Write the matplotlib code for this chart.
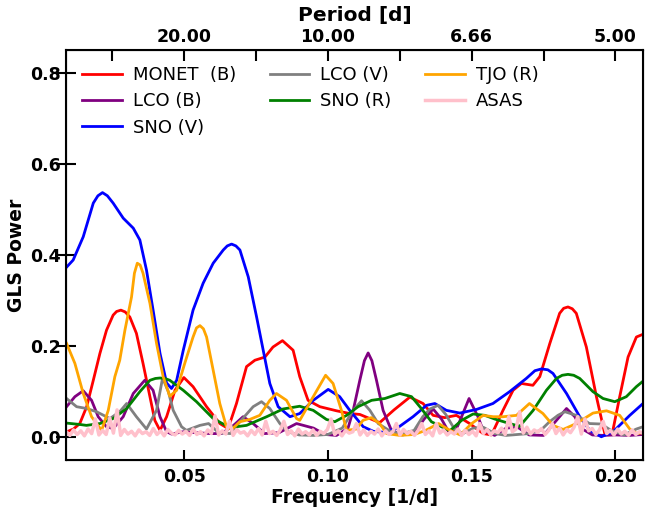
import matplotlib
matplotlib.use('Agg')
import matplotlib.pyplot as plt
import numpy as np

# GLS periodogram values
monet_b_freq = [0.0092, 0.0115, 0.0137, 0.0161, 0.0184, 0.0207, 0.0230, 0.0253, 0.0265, 0.0280,
                0.0295, 0.0311, 0.0334, 0.0357, 0.0381, 0.0398, 0.0416, 0.0439, 0.0468, 0.0499,
                0.0531, 0.0578, 0.0624, 0.0653, 0.0682, 0.0717, 0.0746, 0.0781, 0.0809, 0.0842,
                0.0879, 0.0902, 0.0931, 0.0972, 0.1030, 0.1076, 0.1111, 0.1180, 0.1230, 0.1285,
                0.1331, 0.1366, 0.1406, 0.1447, 0.1493, 0.1540, 0.1569, 0.1609, 0.1644, 0.1673,
                0.1713, 0.1737, 0.1772, 0.1806, 0.1820, 0.1835, 0.1850, 0.1864, 0.1899, 0.1934,
                0.1963, 0.1989, 0.2015, 0.2044, 0.2073, 0.2096]
monet_b_power = [0.012, 0.018, 0.030, 0.067, 0.125, 0.184, 0.235, 0.268, 0.276, 0.279,
                 0.275, 0.264, 0.228, 0.162, 0.089, 0.037, 0.015, 0.045, 0.103, 0.131,
                 0.111, 0.067, 0.030, 0.019, 0.074, 0.155, 0.169, 0.176, 0.198, 0.212,
                 0.191, 0.133, 0.081, 0.067, 0.058, 0.052, 0.050, 0.032, 0.060, 0.088,
                 0.074, 0.048, 0.043, 0.048, 0.030, 0.008, 0.005, 0.059, 0.103, 0.118,
                 0.114, 0.133, 0.206, 0.272, 0.283, 0.286, 0.282, 0.272, 0.198, 0.089,
                 0.008, 0.008, 0.089, 0.176, 0.220, 0.226]

lco_b_freq = [0.0091, 0.0120, 0.0149, 0.0178, 0.0201, 0.0230, 0.0253, 0.0288, 0.0323, 0.0363,
              0.0392, 0.0416, 0.0439, 0.0456, 0.0497, 0.0540, 0.0590, 0.0630, 0.0670, 0.0705,
              0.0740, 0.0780, 0.0830, 0.0891, 0.0950, 0.0990, 0.1030, 0.1070, 0.1088, 0.1111,
              0.1127, 0.1140, 0.1153, 0.1169, 0.1192, 0.1221, 0.1260, 0.1300, 0.1335, 0.1366,
              0.1395, 0.1420, 0.1445, 0.1465, 0.1491, 0.1522, 0.1540, 0.1580, 0.1620, 0.1660,
              0.1700, 0.1750, 0.1795, 0.1830, 0.1859, 0.1880, 0.1920, 0.1960, 0.2000, 0.2050,
              0.2096]
lco_b_power = [0.067, 0.089, 0.102, 0.081, 0.045, 0.023, 0.019, 0.045, 0.096, 0.125,
               0.103, 0.045, 0.012, 0.007, 0.012, 0.010, 0.008, 0.008, 0.025, 0.045,
               0.030, 0.008, 0.010, 0.030, 0.020, 0.006, 0.004, 0.020, 0.059, 0.125,
               0.168, 0.185, 0.168, 0.125, 0.059, 0.015, 0.005, 0.010, 0.040, 0.062,
               0.040, 0.012, 0.015, 0.045, 0.085, 0.045, 0.015, 0.004, 0.020, 0.022,
               0.005, 0.004, 0.037, 0.063, 0.045, 0.020, 0.005, 0.004, 0.005, 0.004,
               0.006]

sno_v_freq = [0.0092, 0.0114, 0.0149, 0.0184, 0.0200, 0.0216, 0.0233, 0.0253, 0.0288, 0.0323,
              0.0346, 0.0369, 0.0392, 0.0416, 0.0439, 0.0456, 0.0474, 0.0497, 0.0531, 0.0566,
              0.0601, 0.0636, 0.0650, 0.0665, 0.0680, 0.0694, 0.0723, 0.0752, 0.0775, 0.0798,
              0.0827, 0.0868, 0.0902, 0.0949, 0.1001, 0.1041, 0.1076, 0.1123, 0.1158, 0.1192,
              0.1239, 0.1296, 0.1343, 0.1372, 0.1412, 0.1459, 0.1517, 0.1574, 0.1632, 0.1690,
              0.1720, 0.1743, 0.1765, 0.1783, 0.1830, 0.1876, 0.1911, 0.1951, 0.1992, 0.2050,
              0.2096]
sno_v_power = [0.374, 0.389, 0.440, 0.514, 0.530, 0.537, 0.530, 0.514, 0.481, 0.459,
               0.433, 0.367, 0.279, 0.184, 0.119, 0.107, 0.125, 0.191, 0.279, 0.338,
               0.382, 0.411, 0.420, 0.424, 0.420, 0.411, 0.352, 0.264, 0.191, 0.118,
               0.067, 0.045, 0.052, 0.081, 0.105, 0.089, 0.059, 0.023, 0.013, 0.011,
               0.019, 0.045, 0.070, 0.074, 0.059, 0.053, 0.061, 0.074, 0.100, 0.129,
               0.146, 0.150, 0.148, 0.140, 0.096, 0.045, 0.015, 0.001, 0.012, 0.048,
               0.074]

lco_v_freq = [0.0091, 0.0126, 0.0161, 0.0195, 0.0242, 0.0276, 0.0300, 0.0334, 0.0369, 0.0404,
              0.0425, 0.0445, 0.0462, 0.0491, 0.0508, 0.0555, 0.0585, 0.0620, 0.0660, 0.0694,
              0.0740, 0.0769, 0.0798, 0.0833, 0.0860, 0.0900, 0.0950, 0.1000, 0.1050, 0.1088,
              0.1117, 0.1146, 0.1175, 0.1220, 0.1260, 0.1300, 0.1330, 0.1355, 0.1383, 0.1410,
              0.1440, 0.1470, 0.1505, 0.1540, 0.1580, 0.1620, 0.1660, 0.1700, 0.1740, 0.1771,
              0.1800, 0.1824, 0.1864, 0.1910, 0.1950, 0.1985, 0.2030, 0.2073, 0.2096]
lco_v_power = [0.085, 0.067, 0.063, 0.056, 0.041, 0.056, 0.074, 0.045, 0.018, 0.059,
               0.130, 0.100, 0.059, 0.023, 0.015, 0.026, 0.030, 0.010, 0.008, 0.034,
               0.067, 0.078, 0.063, 0.030, 0.012, 0.005, 0.004, 0.006, 0.020, 0.059,
               0.080, 0.059, 0.030, 0.012, 0.008, 0.015, 0.045, 0.062, 0.070, 0.050,
               0.018, 0.008, 0.020, 0.022, 0.008, 0.004, 0.006, 0.008, 0.015, 0.034,
               0.048, 0.056, 0.048, 0.030, 0.029, 0.015, 0.005, 0.018, 0.023]

sno_r_freq = [0.0091, 0.0137, 0.0160, 0.0207, 0.0253, 0.0300, 0.0346, 0.0381, 0.0400, 0.0416,
              0.0433, 0.0450, 0.0497, 0.0543, 0.0601, 0.0659, 0.0717, 0.0787, 0.0844, 0.0902,
              0.0949, 0.0995, 0.1024, 0.1065, 0.1105, 0.1152, 0.1198, 0.1250, 0.1291, 0.1325,
              0.1360, 0.1424, 0.1465, 0.1505, 0.1546, 0.1580, 0.1632, 0.1667, 0.1714, 0.1760,
              0.1795, 0.1815, 0.1835, 0.1855, 0.1876, 0.1922, 0.1957, 0.1998, 0.2038, 0.2073,
              0.2096]
sno_r_power = [0.031, 0.028, 0.026, 0.030, 0.041, 0.063, 0.100, 0.125, 0.129, 0.130,
               0.129, 0.125, 0.103, 0.078, 0.041, 0.021, 0.026, 0.045, 0.062, 0.068,
               0.059, 0.039, 0.034, 0.048, 0.067, 0.081, 0.085, 0.096, 0.089, 0.063,
               0.034, 0.014, 0.037, 0.051, 0.048, 0.040, 0.030, 0.024, 0.059, 0.103,
               0.129, 0.136, 0.138, 0.136, 0.129, 0.100, 0.085, 0.078, 0.089, 0.111,
               0.123]

tjo_r_freq = [0.0091, 0.0120, 0.0149, 0.0178, 0.0213, 0.0236, 0.0259, 0.0276, 0.0294, 0.0317,
              0.0327, 0.0337, 0.0347, 0.0357, 0.0381, 0.0404, 0.0427, 0.0450, 0.0474, 0.0502,
              0.0531, 0.0543, 0.0555, 0.0567, 0.0578, 0.0601, 0.0624, 0.0647, 0.0665, 0.0694,
              0.0728, 0.0763, 0.0798, 0.0821, 0.0856, 0.0891, 0.0902, 0.0949, 0.0992, 0.1018,
              0.1047, 0.1065, 0.1099, 0.1122, 0.1151, 0.1180, 0.1204, 0.1250, 0.1300, 0.1340,
              0.1385, 0.1425, 0.1460, 0.1500, 0.1540, 0.1575, 0.1609, 0.1656, 0.1701, 0.1748,
              0.1783, 0.1818, 0.1864, 0.1922, 0.1969, 0.2015, 0.2050, 0.2075, 0.2096]
tjo_r_power = [0.206, 0.162, 0.096, 0.045, 0.015, 0.059, 0.133, 0.169, 0.235, 0.308,
               0.360, 0.382, 0.378, 0.360, 0.294, 0.206, 0.133, 0.090, 0.103, 0.162,
               0.220, 0.240, 0.245, 0.238, 0.220, 0.147, 0.074, 0.023, 0.017, 0.034,
               0.039, 0.048, 0.081, 0.096, 0.081, 0.041, 0.037, 0.089, 0.136, 0.118,
               0.059, 0.015, 0.018, 0.037, 0.043, 0.030, 0.008, 0.004, 0.006, 0.015,
               0.030, 0.015, 0.005, 0.030, 0.048, 0.045, 0.045, 0.048, 0.074, 0.052,
               0.026, 0.017, 0.030, 0.053, 0.058, 0.048, 0.018, 0.008, 0.010]

asas_power = [0.012, 0.004, 0.016, 0.006, 0.014, 0.003, 0.018, 0.008, 0.040, 0.005,
              0.015, 0.006, 0.042, 0.009, 0.060, 0.004, 0.017, 0.007, 0.013, 0.003,
              0.016, 0.008, 0.012, 0.004, 0.019, 0.006, 0.014, 0.003, 0.017, 0.009,
              0.005, 0.015, 0.007, 0.013, 0.004, 0.018, 0.006, 0.012, 0.003, 0.016,
              0.008, 0.047, 0.005, 0.014, 0.007, 0.035, 0.004, 0.017, 0.009, 0.012,
              0.003, 0.015, 0.006, 0.019, 0.005, 0.035, 0.008, 0.013, 0.004, 0.016,
              0.035, 0.006, 0.014, 0.003, 0.018, 0.007, 0.012, 0.005, 0.016, 0.004,
              0.013, 0.008, 0.017, 0.040, 0.006, 0.014, 0.003, 0.015, 0.009, 0.012,
              0.030, 0.005, 0.016, 0.004, 0.013, 0.007, 0.018, 0.003, 0.014, 0.006,
              0.012, 0.030, 0.005, 0.017, 0.008, 0.013, 0.004, 0.015, 0.030, 0.006,
              0.014, 0.003, 0.030, 0.009, 0.016, 0.005, 0.012, 0.007, 0.018, 0.004,
              0.015, 0.006, 0.013, 0.003, 0.030, 0.008, 0.017, 0.005, 0.014, 0.010,
              0.020, 0.006, 0.045, 0.012, 0.018, 0.056, 0.009, 0.022, 0.007, 0.016,
              0.011, 0.019, 0.006, 0.015, 0.030, 0.008, 0.020, 0.005, 0.017, 0.010,
              0.022, 0.045, 0.007, 0.040, 0.014, 0.019, 0.006, 0.016, 0.035, 0.008,
              0.015, 0.005, 0.018, 0.007, 0.013, 0.004, 0.016, 0.006, 0.012, 0.009]
asas_freq = np.linspace(0.009, 0.2096, len(asas_power))

freq_ticks = [0.05, 0.10, 0.15, 0.20]
period_ticks = [0.025, 0.05, 0.075, 0.10, 0.125, 0.15, 0.175, 0.20]
period_labels = ['', '20.00', '', '10.00', '', '6.66', '', '5.00']

fig = plt.figure(figsize=(6.45, 5.08), dpi=100)
ax = fig.add_axes([0.1023, 0.0945, 0.8946, 0.807])

lw = 2
ax.plot(monet_b_freq, monet_b_power, color='red', lw=lw, label='MONET  (B)')
ax.plot(lco_b_freq, lco_b_power, color='purple', lw=lw, label='LCO (B)')
ax.plot(sno_v_freq, sno_v_power, color='blue', lw=lw, label='SNO (V)')
ax.plot(lco_v_freq, lco_v_power, color='gray', lw=lw, label='LCO (V)')
ax.plot(sno_r_freq, sno_r_power, color='green', lw=lw, label='SNO (R)')
ax.plot(tjo_r_freq, tjo_r_power, color='orange', lw=lw, label='TJO (R)')
ax.plot(asas_freq, asas_power, color='pink', lw=2.5, label='ASAS')

ax.set_xlim(0.0089, 0.2096)
ax.set_ylim(-0.05, 0.85)
ax.set_xticks(freq_ticks)
ax.set_xticklabels(['0.05', '0.10', '0.15', '0.20'])
ax.set_yticks([0.0, 0.2, 0.4, 0.6, 0.8])
ax.tick_params(axis='x', direction='in', length=7, width=1.5, labelsize=12.5, pad=6)
ax.tick_params(axis='y', direction='inout', length=14, width=1.5, labelsize=12.5, pad=-3)
for lab in ax.get_xticklabels() + ax.get_yticklabels():
    lab.set_fontweight('bold')
for s in ax.spines.values():
    s.set_linewidth(1.5)

ax.set_xlabel('Frequency [1/d]', fontsize=13.5, fontweight='bold', labelpad=1)
ax.set_ylabel('GLS Power', fontsize=13.5, fontweight='bold', labelpad=3)

# period axis on top
ax2 = ax.twiny()
ax2.set_xlim(ax.get_xlim())
ax2.set_xticks(period_ticks)
ax2.set_xticklabels(period_labels)
ax2.tick_params(axis='x', direction='in', length=8, width=1.5, labelsize=12.5, pad=3)
for lab in ax2.get_xticklabels():
    lab.set_fontweight('bold')
ax2.set_xlabel('Period [d]', fontsize=14.5, fontweight='bold', labelpad=5)

ax.legend(loc='upper left', ncol=3, frameon=False, fontsize=13,
          handlelength=2.2, handletextpad=0.6, columnspacing=1.86, labelspacing=0.45,
          bbox_to_anchor=(0.0, 1.0))

plt.savefig('out.png', dpi=100)
